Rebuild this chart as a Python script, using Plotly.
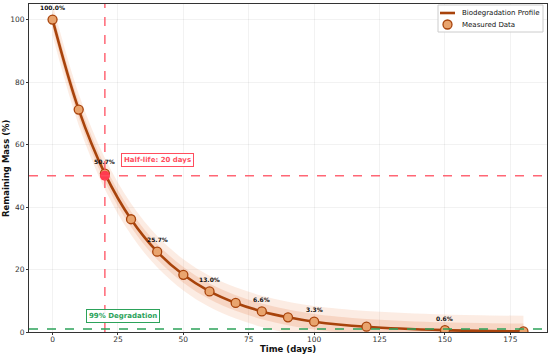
import plotly.graph_objects as go

# Data
days = [0, 10, 20, 30, 40, 50, 60, 70, 80, 90, 100, 120, 150, 180]
remaining = [100.0, 71.2, 50.7, 36.1, 25.7, 18.3, 13.0, 9.3, 6.6, 4.7, 3.3, 1.7, 0.6, 0.2]
band_outer = 5.0
band_inner = 2.5
half_life = 20
half_value = 50
degradation_level = 1
label_idx = [0, 2, 4, 6, 8, 10, 12]
legend_names = ["Biodegradation Profile", "Measured Data"]

LINE_C = "#a8430b"
MARK_FILL = "#e9a46e"
MARK_EDGE = "#a8430b"
RED = "#ff4d5e"
GREEN = "#2ca25a"
FONT = "DejaVu Sans"

W, H = 550, 354
ML, MR, MT, MB = 29, 3, 4, 22
PW, PH = W - ML - MR, H - MT - MB

def px(x):
    return (x - ML) / PW

def py(y):
    return (H - MB - y) / PH

fig = go.Figure()

def band(delta, color):
    up = [v + delta for v in remaining]
    lo = [v - delta for v in remaining]
    fig.add_trace(go.Scatter(x=days, y=up, mode="lines", line=dict(width=0, shape="spline"),
                             showlegend=False, hoverinfo="skip"))
    fig.add_trace(go.Scatter(x=days, y=lo, mode="lines", line=dict(width=0, shape="spline"),
                             fill="tonexty", fillcolor=color, showlegend=False, hoverinfo="skip"))

band(band_outer, "rgba(240,150,100,0.18)")
band(band_inner, "rgba(230,130,80,0.22)")

fig.add_trace(go.Scatter(x=days, y=remaining, mode="lines", name=legend_names[0], showlegend=False,
                         line=dict(color=LINE_C, width=2.6, shape="spline")))
fig.add_trace(go.Scatter(x=days, y=remaining, mode="markers", name=legend_names[1], showlegend=False,
                         marker=dict(size=9, color=MARK_FILL, line=dict(color=MARK_EDGE, width=1.3))))

# reference lines
fig.add_shape(type="line", x0=half_life, x1=half_life, y0=0, y1=1, xref="x", yref="paper",
              line=dict(color=RED, width=1.5, dash="dash"), opacity=0.85)
fig.add_shape(type="line", x0=0, x1=1, y0=half_value, y1=half_value, xref="paper", yref="y",
              line=dict(color=RED, width=1.5, dash="dash"), opacity=0.85)
fig.add_shape(type="line", x0=0, x1=1, y0=degradation_level, y1=degradation_level, xref="paper", yref="y",
              line=dict(color=GREEN, width=1.5, dash="dash"))

fig.add_trace(go.Scatter(x=[half_life], y=[half_value], mode="markers", showlegend=False,
                         marker=dict(size=10, color="#ff3b4e")))

for i in label_idx:
    fig.add_annotation(x=days[i], y=remaining[i], text=f"<b>{remaining[i]:.1f}%</b>",
                       showarrow=False, yshift=12, font=dict(family=FONT, size=6, color="#111"))

fig.add_annotation(x=half_life + 6, y=half_value + 5, xanchor="left", text="<b>Half-life: 20 days</b>",
                   showarrow=False, font=dict(family=FONT, size=7, color=RED),
                   bgcolor="rgba(255,255,255,0.9)", bordercolor=RED, borderwidth=1, borderpad=2)
fig.add_annotation(x=27, y=degradation_level + 4, text="<b>99% Degradation</b>",
                   showarrow=False, font=dict(family=FONT, size=7, color=GREEN),
                   bgcolor="rgba(255,255,255,0.9)", bordercolor=GREEN, borderwidth=1, borderpad=2)

# axis titles
fig.add_annotation(x=0.5, y=0, xref="paper", yref="paper", yshift=-16.5, yanchor="middle",
                   text="<b>Time (days)</b>", showarrow=False,
                   font=dict(family=FONT, size=8.5, color="#111"))
fig.add_annotation(x=0, y=0.5, xref="paper", yref="paper", xshift=-16, xanchor="right",
                   text="<b>Remaining Mass (%)</b>", showarrow=False, textangle=-90,
                   font=dict(family=FONT, size=8.5, color="#111"))

# legend box (drawn like the reference's legend)
fig.add_shape(type="rect", xref="paper", yref="paper", x0=px(438), x1=px(543), y0=py(32), y1=py(5),
              line=dict(color="#cccccc", width=1), fillcolor="rgba(255,255,255,0.9)", layer="above")
fig.add_shape(type="line", xref="paper", yref="paper", x0=px(440), x1=px(455), y0=py(13), y1=py(13),
              line=dict(color=LINE_C, width=2.6), layer="above")
fig.add_shape(type="circle", xref="paper", yref="paper", xsizemode="pixel", ysizemode="pixel",
              xanchor=px(447.5), yanchor=py(24.5), x0=-4.5, x1=4.5, y0=-4.5, y1=4.5,
              fillcolor=MARK_FILL, line=dict(color=MARK_EDGE, width=1.3), layer="above")
for name, yy in zip(legend_names, [13, 24.5]):
    fig.add_annotation(x=px(460), y=py(yy), xref="paper", yref="paper", xanchor="left", yanchor="middle",
                       text=name, showarrow=False, font=dict(family=FONT, size=7, color="#111"))

axis_common = dict(showline=True, linecolor="#333", linewidth=1, mirror=True,
                   ticks="outside", ticklen=2, tickcolor="#333", automargin=False,
                   tickfont=dict(family=FONT, size=7.5, color="#333"),
                   showgrid=True, gridcolor="rgba(0,0,0,0.05)", zeroline=False)

fig.update_layout(
    width=W, height=H,
    margin=dict(l=ML, r=MR, t=MT, b=MB),
    plot_bgcolor="white", paper_bgcolor="white",
    font=dict(family=FONT),
    showlegend=False,
    xaxis=dict(range=[-9, 189], tickvals=[0, 25, 50, 75, 100, 125, 150, 175],
               ticklabelstandoff=-2, **axis_common),
    yaxis=dict(range=[0, 105], tickvals=[0, 20, 40, 60, 80, 100], **axis_common),
)

fig.write_html("out.html", config={"displayModeBar": False},
               post_script="document.body.style.margin='0';document.body.style.overflow='hidden';")
